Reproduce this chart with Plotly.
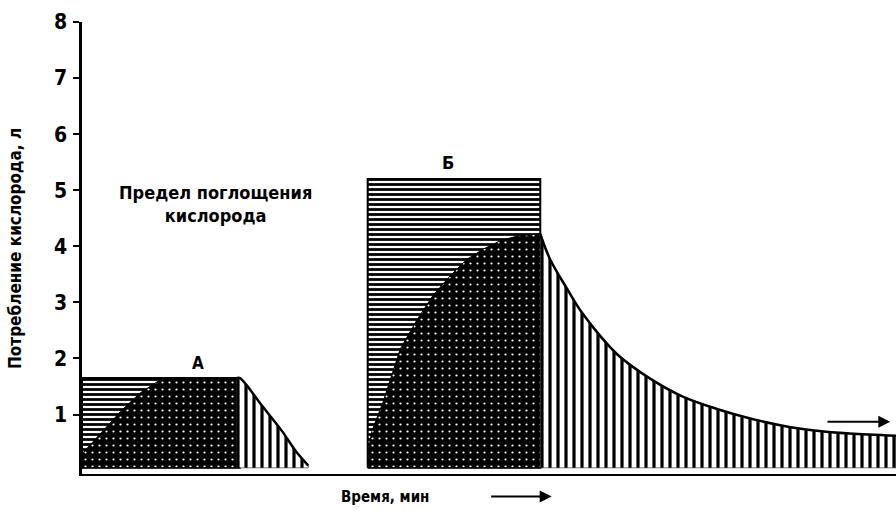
import plotly.graph_objects as go

# ---- data (x in arbitrary time units, y in litres) ----
y_ticks = [1, 2, 3, 4, 5, 6, 7, 8]

a_limit_x = [0, 19.4]
a_limit_y = 1.65

a_rise_x = [0, 2.2, 4.7, 7.1, 9.6, 10.2, 19.0]
a_rise_y = [0.30, 0.65, 1.05, 1.38, 1.62, 1.65, 1.65]

a_decay_x = [19.0, 19.4, 22.1, 24.6, 26.2, 27.8]
a_decay_y = [1.65, 1.65, 1.16, 0.70, 0.36, 0.09]

b_limit_x = [35.1, 56.3]
b_limit_y = 5.2

b_rise_x = [35.1, 35.6, 37.0, 39.1, 41.2, 43.1, 45.2, 47.3, 49.3, 51.4, 53.4, 56.0, 56.3]
b_rise_y = [0.30, 0.70, 1.23, 2.17, 2.70, 3.12, 3.47, 3.77, 3.95, 4.10, 4.18, 4.22, 4.22]

b_decay_x = [56.3, 57.5, 59.6, 61.5, 65.7, 69.8, 73.8, 78.0, 82.1, 86.1, 90.3, 94.3, 100]
b_decay_y = [4.22, 3.77, 3.24, 2.80, 2.08, 1.64, 1.32, 1.10, 0.93, 0.80, 0.71, 0.66, 0.62]

base = 0.05

FONT = "DejaVu Sans Condensed, Liberation Sans Narrow, Arial Narrow, DejaVu Sans"

hpat = dict(shape="-", fgcolor="black", bgcolor="white", size=5, solidity=0.55, fillmode="replace")
vpat = dict(shape="|", fgcolor="black", bgcolor="white", size=8, solidity=0.4, fillmode="replace")
dpat = dict(shape=".", fgcolor="white", bgcolor="black", size=7, solidity=0.08, fillmode="replace")


def rect(xs, top):
    return [xs[0], xs[0], xs[1], xs[1], xs[0]], [base, top, top, base, base]


def area(xs, ys):
    return [xs[0]] + list(xs) + [xs[-1], xs[0]], [base] + list(ys) + [base, base]


fig = go.Figure()

for xs, top in [(a_limit_x, a_limit_y), (b_limit_x, b_limit_y)]:
    rx, ry = rect(xs, top)
    fig.add_trace(go.Scatter(x=rx, y=ry, mode="lines", fill="toself", fillpattern=hpat,
                             line=dict(color="black", width=2), hoverinfo="skip"))

for xs, ys in [(a_rise_x, a_rise_y), (b_rise_x, b_rise_y)]:
    px_, py_ = area(xs, ys)
    fig.add_trace(go.Scatter(x=px_, y=py_, mode="lines", fill="toself", fillpattern=dpat,
                             line=dict(color="black", width=1), hoverinfo="skip"))

for xs, ys in [(a_decay_x, a_decay_y), (b_decay_x, b_decay_y)]:
    px_, py_ = area(xs, ys)
    fig.add_trace(go.Scatter(x=px_, y=py_, mode="lines", fill="toself", fillpattern=vpat,
                             line=dict(color="black", width=0.5), hoverinfo="skip"))
    fig.add_trace(go.Scatter(x=xs, y=ys, mode="lines", line=dict(color="black", width=2.5),
                             line_shape="spline", hoverinfo="skip"))

fig.update_layout(
    width=896, height=510,
    margin=dict(l=82, r=0, t=22, b=36, autoexpand=False),
    plot_bgcolor="white", paper_bgcolor="white",
    showlegend=False,
    font=dict(family=FONT, color="black"),
    xaxis=dict(range=[0, 100], showgrid=False, zeroline=False, showticklabels=False,
               showline=True, linecolor="black", linewidth=2, ticks="", automargin=False),
    yaxis=dict(range=[-0.06, 8.0], showgrid=False, zeroline=False, tickvals=y_ticks,
               ticktext=[f"<b>{v}</b>" for v in y_ticks],
               tickfont=dict(size=21, family=FONT), ticks="outside", ticklen=6, tickwidth=2,
               tickcolor="black", showline=True, linecolor="black", linewidth=2.5,
               ticklabelstandoff=2, automargin=False),
    annotations=[
        dict(text="<b>Предел поглощения<br>кислорода</b>", x=16.4, y=4.75, xref="x", yref="y",
             showarrow=False, font=dict(size=18)),
        dict(text="<b>А</b>", x=14.2, y=1.92, xref="x", yref="y", showarrow=False, font=dict(size=17)),
        dict(text="<b>Б</b>", x=45.0, y=5.5, xref="x", yref="y", showarrow=False, font=dict(size=18)),
        dict(text="<b>Потребление кислорода, л</b>", x=-67 / 814, y=(474 - 249) / 452, xref="paper",
             yref="paper", textangle=-90, showarrow=False, font=dict(size=17),
             xanchor="center", yanchor="middle"),
        dict(text="<b>Время, мин</b>", x=0.372, y=-0.05, xref="paper", yref="paper",
             xanchor="center", yanchor="middle", showarrow=False, font=dict(size=15)),
        dict(x=0.577, y=-0.05, ax=-62, ay=0, xref="paper", yref="paper",
             axref="pixel", ayref="pixel",
             showarrow=True, arrowhead=2, arrowsize=1.2, arrowwidth=2, arrowcolor="black", text=""),
        dict(x=99.3, y=0.87, ax=91.4, ay=0.87, xref="x", yref="y", axref="x", ayref="y",
             showarrow=True, arrowhead=2, arrowsize=1.2, arrowwidth=2, arrowcolor="black", text=""),
    ],
)

fig.write_html("out.html", config={"displayModeBar": False},
               post_script="document.body.style.margin='0';")
